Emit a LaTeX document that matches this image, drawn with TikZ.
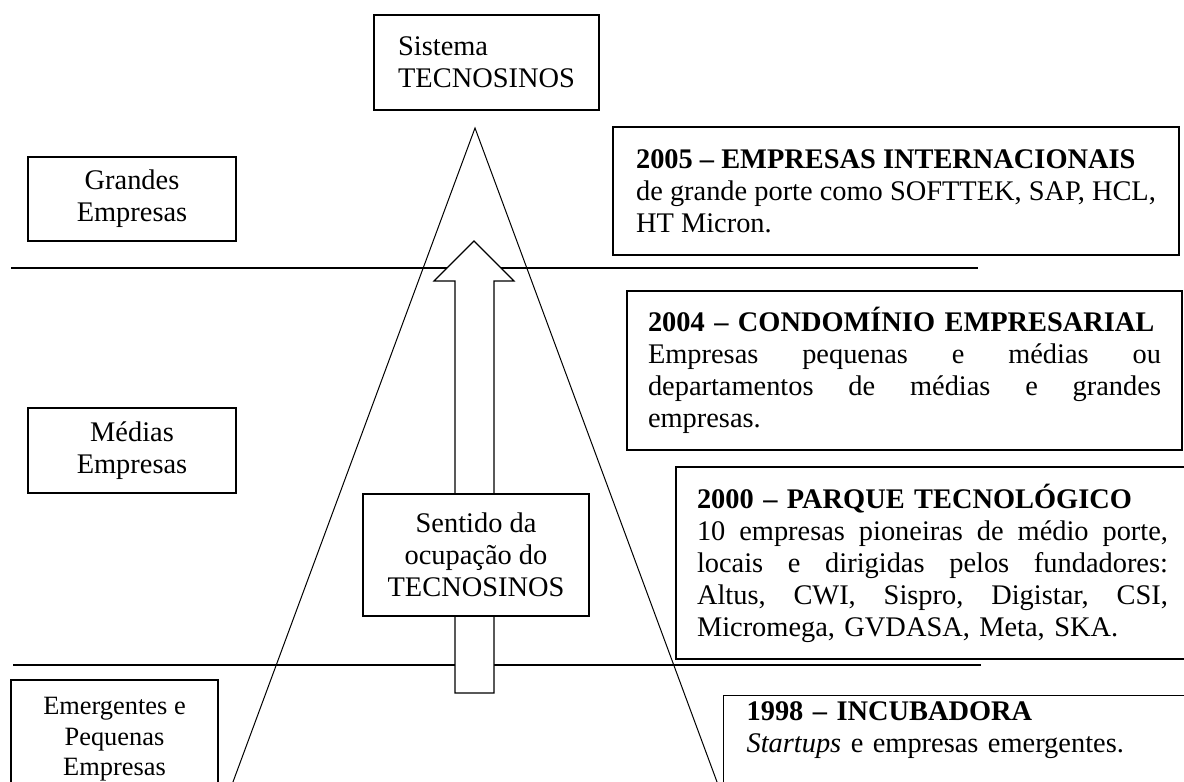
\documentclass[tikz,border=0pt]{standalone}
\usepackage{fontspec}
\setmainfont{Liberation Serif}
\newcommand{\jline}[2]{\leavevmode\hbox to #1{#2}}
\tikzset{
  pbox/.style={rectangle,draw,fill=white,line width=0.6pt,inner sep=0pt,align=center,font=\fontsize{14.2}{16}\selectfont},
  rbox/.style={rectangle,draw,fill=white,line width=0.6pt,inner xsep=10.5pt,inner ysep=0pt,align=left,font=\fontsize{14.2}{16}\selectfont},
  level/.style={line width=1pt},
}
\begin{document}
\begin{tikzpicture}[x=0.5pt,y=-0.5pt]
        \useasboundingbox (0,0) rectangle (1184,782);
        \clip (0,0) rectangle (1184,782);

        % levels and pyramid
        \draw [level] (11,268) -- (978,268);
        \draw [level] (13,665) -- (981,665);
        \draw [line width=0.5pt] (230,790) -- (475,128) -- (720,790);
        \draw [fill=white,line width=0.6pt] (455,693) -- (455,281) -- (434,281) -- (474,241) -- (514,281) -- (494,281) -- (494,693) -- cycle;

        % left column
        \draw (486.5,62.5) node (sistema) [pbox,align=left,minimum width=112.5pt,minimum height=47.5pt] {Sistema\\TECNOSINOS};
        \draw (132,199) node (grandes) [pbox,minimum width=104pt,minimum height=42pt] {Grandes\\Empresas};
        \draw (132,450.5) node (medias) [pbox,minimum width=104pt,minimum height=42.5pt] {Médias\\Empresas};
        \draw (114.5,739.5) node (emergentes) [pbox,minimum width=103.5pt,minimum height=59.5pt,font=\fontsize{13.2}{15.3}\selectfont] {Emergentes e\\Pequenas\\Empresas};
        \draw (476,555) node (sentido) [pbox,minimum width=113pt,minimum height=61pt] {Sentido da\\ocupação do\\TECNOSINOS};

        % right column
        \draw (896,191) node (internac) [rbox,inner xsep=0pt,minimum width=283pt,minimum height=64pt] {\textbf{2005 – EMPRESAS INTERNACIONAIS}\\de grande porte como SOFTTEK, SAP, HCL,\\HT Micron.};
        \draw (904.5,370.5) node (condominio) [rbox,text width=256.5pt,minimum height=79.5pt] {\textbf{2004 – CONDOMÍNIO EMPRESARIAL}\\\jline{256.5pt}{Empresas\hfill pequenas\hfill e\hfill médias\hfill ou}\\\jline{256.5pt}{departamentos\hfill de\hfill médias\hfill e\hfill grandes}\\empresas.};
        \draw (932.5,563) node (parque) [rbox,text width=235.5pt,minimum height=96pt] {\textbf{2000 – PARQUE TECNOLÓGICO}\\\jline{235.5pt}{10\hfill empresas\hfill pioneiras\hfill de\hfill médio\hfill porte,}\\\jline{235.5pt}{locais\hfill e\hfill dirigidas\hfill pelos\hfill fundadores:}\\\jline{235.5pt}{Altus,\hfill CWI,\hfill Sispro,\hfill Digistar,\hfill CSI,}\\Micromega, GVDASA, Meta, SKA.};
        \draw (723,695) node (incubadora) [rbox,anchor=north west,inner xsep=11.5pt,inner ysep=3pt,text width=300pt] {\textbf{1998 – INCUBADORA}\\\emph{Startups} e empresas emergentes.\\\strut};

    \end{tikzpicture}
\end{document}
